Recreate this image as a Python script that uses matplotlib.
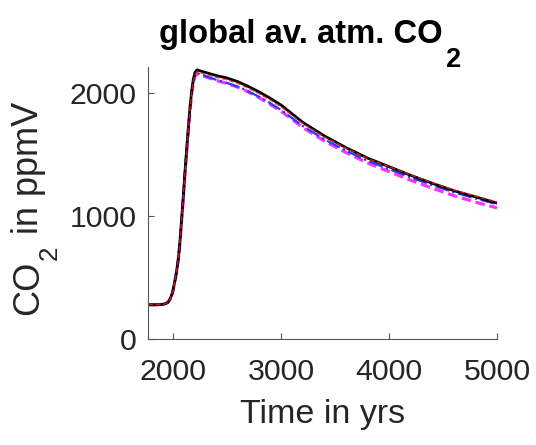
import numpy as np
import matplotlib
matplotlib.use("Agg")
import matplotlib.pyplot as plt

plt.rcParams['font.family'] = ['Liberation Sans', 'DejaVu Sans']

# data
years = [1765, 1850, 1900, 1930, 1950, 1970, 1990, 2000, 2016, 2030, 2047, 2062, 2078, 2094,
         2109, 2125, 2140, 2155, 2171, 2185, 2200, 2220, 2250,
         2300, 2400, 2500, 2600, 2700, 2800, 2900, 3000, 3200, 3400, 3600, 3800, 4000,
         4200, 4400, 4600, 4800, 5000]
co2_black = [278, 278, 281, 288, 298, 325, 370, 410, 480, 550, 660, 800, 992, 1180,
             1374, 1560, 1726, 1890, 2024, 2110, 2165, 2187, 2178,
             2165, 2140, 2120, 2090, 2050, 2005, 1955, 1900, 1760, 1650, 1555, 1470, 1400,
             1330, 1265, 1205, 1155, 1105]
co2_red = [278, 278, 281, 288, 298, 325, 370, 410, 480, 550, 658, 798, 990, 1176,
           1370, 1555, 1720, 1882, 2015, 2098, 2150, 2170, 2162,
           2150, 2125, 2105, 2075, 2035, 1990, 1940, 1885, 1750, 1640, 1550, 1467, 1400,
           1333, 1270, 1211, 1162, 1113]
co2_blue = [278, 278, 281, 288, 298, 325, 370, 410, 480, 548, 655, 793, 985, 1170,
            1365, 1548, 1712, 1872, 2005, 2088, 2140, 2160, 2150,
            2135, 2105, 2080, 2050, 2010, 1965, 1915, 1860, 1730, 1622, 1530, 1448, 1380,
            1312, 1250, 1192, 1142, 1095]
co2_magenta = [278, 278, 281, 288, 298, 325, 370, 410, 478, 545, 650, 788, 980, 1165,
               1360, 1542, 1705, 1865, 2000, 2082, 2135, 2155, 2145,
               2130, 2100, 2075, 2045, 2005, 1958, 1905, 1850, 1718, 1608, 1515, 1430, 1360,
               1290, 1225, 1165, 1112, 1065]

W, H = 536, 445
TICK_FS = 21.8
LABEL_FS = 24.5
TITLE_FS = 23.6
YLAB_FS = 26
GRAY = '#262626'

fig = plt.figure(figsize=(W / 100, H / 100), dpi=100)
ax = fig.add_axes([148 / W, 1 - 339 / H, 349 / W, 272 / H])

ax.plot(years, co2_magenta, color='#ff33ff', linestyle=(0, (3, 1.5)), linewidth=2.3)
ax.plot(years, co2_blue, color='#1f3fff', linestyle='-.', linewidth=1.6)
ax.plot(years, co2_black, color='black', linewidth=2.0)
ax.plot(years, co2_red, color='#ff2020', linestyle='--', linewidth=1.0, alpha=0.8)

ax.set_xlim(1765, 5000)
ax.set_ylim(0, 2210)
ax.set_xticks([2000, 3000, 4000, 5000])
ax.set_yticks([0, 1000, 2000])

for s in ['top', 'right']:
    ax.spines[s].set_visible(False)
for s in ['left', 'bottom']:
    ax.spines[s].set_color('#555555')
    ax.spines[s].set_linewidth(0.8)
ax.tick_params(direction='in', length=4, width=0.8, color='#555555',
               labelsize=TICK_FS, labelcolor=GRAY)
ax.tick_params(axis='x', pad=14)
ax.tick_params(axis='y', pad=8)

ax.set_xlabel('Time in yrs', fontsize=LABEL_FS, color=GRAY, labelpad=9)

# matlab-style subscripts: nearly full size and dropped below the baseline
fig.canvas.draw()
r = fig.canvas.get_renderer()

# title
t1 = fig.text(0, (H - 43) / H, 'global av. atm. CO', fontsize=TITLE_FS, fontweight='bold',
              ha='left', va='baseline')
t2 = fig.text(0, (H - 67) / H, '2', fontsize=TITLE_FS * 0.83, fontweight='bold',
              ha='left', va='baseline')
w1 = t1.get_window_extent(r).width
w2 = t2.get_window_extent(r).width
x0 = 310 - (w1 + w2 + 4) / 2
t1.set_x(x0 / W)
t2.set_x((x0 + w1 + 4) / W)

# y label, rotated
y_start = H - 315
l1 = fig.text(38 / W, y_start / H, 'CO', fontsize=YLAB_FS, color=GRAY, rotation=90,
              rotation_mode='anchor', ha='left', va='baseline')
b1 = l1.get_window_extent(r)
l2 = fig.text(57 / W, (b1.y1 + 1) / H, '2', fontsize=YLAB_FS * 0.72, color=GRAY, rotation=90,
              rotation_mode='anchor', ha='left', va='baseline')
b2 = l2.get_window_extent(r)
fig.text(38 / W, (b2.y1 + 1) / H, ' in ppmV', fontsize=YLAB_FS, color=GRAY, rotation=90,
         rotation_mode='anchor', ha='left', va='baseline')

fig.savefig('out.png', dpi=100)
